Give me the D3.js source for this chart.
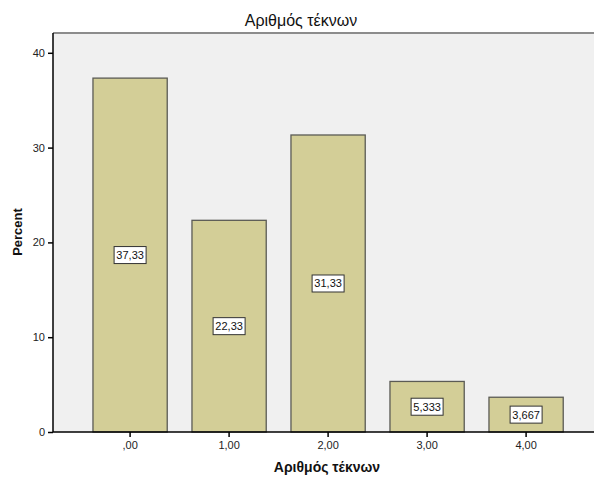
<!DOCTYPE html>
<html>
<head>
<meta charset="utf-8">
<script src="https://cdn.jsdelivr.net/npm/d3@7"></script>
<style>
html,body{margin:0;padding:0;background:#fff;}
svg{display:block;font-family:"Liberation Sans",Arial,sans-serif;}
</style>
</head>
<body>
<svg id="chart" width="594" height="478"></svg>
<script>
const categories = [",00", "1,00", "2,00", "3,00", "4,00"];
const percents = [37.33, 22.33, 31.33, 5.333, 3.667];
const valueLabels = ["37,33", "22,33", "31,33", "5,333", "3,667"];
const yTicks = [0, 10, 20, 30, 40];
const title = "Αριθμός τέκνων";
const xTitle = "Αριθμός τέκνων";
const yTitle = "Percent";

const svg = d3.select("#chart");
const plot = {left: 53, right: 600, top: 33, bottom: 432};

const x = d3.scaleBand().domain(categories).range([80.6, 575.6])
  .paddingInner(0.25).paddingOuter(0.125);
const y = d3.scaleLinear().domain([0, 40]).range([432, 52.8]);

// plot background
svg.append("rect").attr("x", plot.left).attr("y", plot.top)
  .attr("width", plot.right - plot.left).attr("height", plot.bottom - plot.top)
  .attr("fill", "#f0f0f0");
svg.append("line").attr("x1", plot.left).attr("x2", 594)
  .attr("y1", plot.top).attr("y2", plot.top)
  .attr("stroke", "#8c8c8c").attr("stroke-width", 2);

// bars
const data = categories.map((c, i) => ({c, v: percents[i], lab: valueLabels[i]}));
svg.selectAll("rect.bar").data(data).enter().append("rect")
  .attr("class", "bar")
  .attr("x", d => x(d.c)).attr("width", x.bandwidth())
  .attr("y", d => y(d.v)).attr("height", d => y(0) - y(d.v))
  .attr("fill", "#d3ce97").attr("stroke", "#5b5b55").attr("stroke-width", 1.3);

// value labels
const lg = svg.selectAll("g.lab").data(data).enter().append("g").attr("class", "lab")
  .attr("transform", d => `translate(${x(d.c) + x.bandwidth() / 2},${(y(d.v) + y(0)) / 2})`);
lg.append("rect").attr("x", -16).attr("y", -8.5).attr("width", 32).attr("height", 17)
  .attr("fill", "#fff").attr("stroke", "#333").attr("stroke-width", 1);
lg.append("text").attr("text-anchor", "middle").attr("dy", "0.36em")
  .attr("font-size", 11).attr("fill", "#111").text(d => d.lab);

// axes
const yAxis = d3.axisLeft(y).tickValues(yTicks).tickSize(5).tickPadding(3).tickFormat(d3.format("d"));
const gy = svg.append("g").attr("transform", `translate(${plot.left},0)`).call(yAxis);
gy.select(".domain").attr("d", `M0,${plot.top}V${plot.bottom}`).attr("stroke", "#000").attr("stroke-width", 1.5);
gy.selectAll(".tick line").attr("stroke", "#000").attr("stroke-width", 1.5);
gy.selectAll(".tick text").attr("font-size", 11).attr("fill", "#222").attr("font-family", "Liberation Sans, Arial, sans-serif");

const xAxis = d3.axisBottom(x).tickSize(5).tickPadding(4);
const gx = svg.append("g").attr("transform", `translate(0,${plot.bottom})`).call(xAxis);
gx.select(".domain").attr("d", `M${plot.left},0H594`).attr("stroke", "#000").attr("stroke-width", 1.5);
gx.selectAll(".tick line").attr("stroke", "#000").attr("stroke-width", 1.5);
gx.selectAll(".tick text").attr("font-size", 11).attr("fill", "#222").attr("font-family", "Liberation Sans, Arial, sans-serif");

// titles
svg.append("text").attr("x", 301).attr("y", 26).attr("text-anchor", "middle")
  .attr("font-size", 16).attr("fill", "#111").text(title);
svg.append("text").attr("x", 327).attr("y", 472).attr("text-anchor", "middle")
  .attr("font-size", 14).attr("font-weight", "bold").attr("fill", "#111").text(xTitle);
svg.append("text").attr("transform", "translate(22,232) rotate(-90)").attr("text-anchor", "middle")
  .attr("font-size", 13).attr("font-weight", "bold").attr("fill", "#111").text(yTitle);
</script>
</body>
</html>
